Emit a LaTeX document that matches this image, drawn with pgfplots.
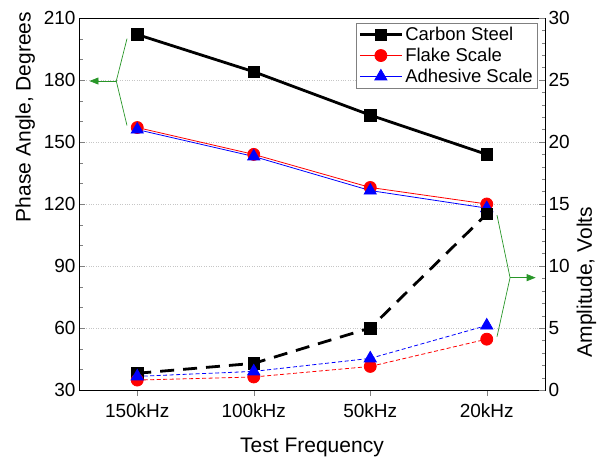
\documentclass[border=0pt]{standalone}
\usepackage{fontspec}
\setmainfont{Liberation Sans}
\usepackage{pgfplots}
\pgfplotsset{compat=1.18}
\usetikzlibrary{arrows.meta}
\definecolor{annot}{RGB}{40,150,40}

\begin{document}
\begin{tikzpicture}[font=\fontsize{19}{22}\selectfont]
% phase angle, left axis
\begin{axis}[
  name=ph,
  scale only axis, width=466pt, height=372pt,
  xmin=-0.5, xmax=3.5, ymin=30, ymax=210,
  xtick={0,1,2,3}, xticklabels={150kHz,100kHz,50kHz,20kHz},
  ytick={30,60,...,210}, minor y tick num=2,
  xtick pos=left, ytick pos=left,
  xtick align=outside, ytick align=inside,
  major tick length=6pt, minor tick length=3.5pt,
  ymajorgrids, grid style={dotted, line width=0.6pt, gray!45},
  xticklabel style={yshift=-4pt},
  xlabel={Test Frequency}, ylabel={Phase Angle, Degrees},
  label style={font=\fontsize{21}{25}\selectfont},
  xlabel style={yshift=-14pt},
  ylabel style={at={(ticklabel cs:0.734)}, yshift=2pt},
  /pgf/number format/assume math mode=true,
  legend cell align=left,
  legend style={at={(1,1)}, anchor=north east, xshift=-8pt, yshift=-5pt,
    draw=gray, inner sep=2pt, row sep=2pt, font=\fontsize{18.5}{21}\selectfont},
  legend image code/.code={\draw[mark repeat=2,mark phase=2] plot coordinates {(0pt,0pt) (21pt,0pt) (42pt,0pt)};},
]
\addplot[black, line width=2.8pt, mark=square*, mark size=5.8pt, mark options={solid, line width=0.5pt}]
  coordinates {(0,202) (1,184) (2,163) (3,144)};
\addlegendentry{Carbon Steel}
\addplot[red, line width=0.8pt, mark=*, mark size=6pt, mark options={solid, fill=red}]
  coordinates {(0,157) (1,144) (2,128) (3,120)};
\addlegendentry{Flake Scale}
\addplot[blue, line width=0.8pt, mark=triangle*, mark size=7pt, mark options={solid, fill=blue}]
  coordinates {(0,156) (1,143) (2,126.5) (3,118)};
\addlegendentry{Adhesive Scale}
\draw[annot, line width=0.7pt] (axis cs:-0.088,200) -- (axis cs:-0.18,179.5) -- (axis cs:-0.088,158);
\draw[annot, line width=0.7pt, -{Triangle[length=9pt,width=7pt]}] (axis cs:-0.18,179.5) -- (axis cs:-0.41,179.5);
\end{axis}
% amplitude, right axis
\begin{axis}[
  scale only axis, width=466pt, height=372pt,
  xmin=-0.5, xmax=3.5, ymin=0, ymax=30,
  axis x line=none, axis y line*=right,
  ytick={0,5,...,30}, minor y tick num=4, ytick align=inside,
  major tick length=6pt, minor tick length=3.5pt,
  ylabel={Amplitude, Volts},
  label style={font=\fontsize{21}{25}\selectfont},
  ylabel style={at={(ticklabel cs:0.29)}},
  /pgf/number format/assume math mode=true,
]
\addplot[black, line width=2.8pt, dash pattern=on 14pt off 9pt, mark=square*, mark size=5.8pt, mark options={solid, line width=0.5pt}]
  coordinates {(0,1.35) (1,2.15) (2,5.0) (3,14.2)};
\addplot[red, line width=0.8pt, dash pattern=on 4pt off 2.5pt, mark=*, mark size=6pt, mark options={solid, fill=red}]
  coordinates {(0,0.8) (1,1.05) (2,1.9) (3,4.1)};
\addplot[blue, line width=0.8pt, dash pattern=on 4pt off 2.5pt, mark=triangle*, mark size=7pt, mark options={solid, fill=blue}]
  coordinates {(0,1.1) (1,1.5) (2,2.55) (3,5.2)};
\draw[annot, line width=0.7pt] (axis cs:3.088,14.1) -- (axis cs:3.2,9.06) -- (axis cs:3.088,4.3);
\draw[annot, line width=0.7pt, -{Triangle[length=9pt,width=7pt]}] (axis cs:3.2,9.06) -- (axis cs:3.42,9.06);
\end{axis}
\pgfresetboundingbox
\path[use as bounding box] (ph.south west) ++(-79pt,-67pt) rectangle ++(601pt,457pt);
\end{tikzpicture}
\end{document}
